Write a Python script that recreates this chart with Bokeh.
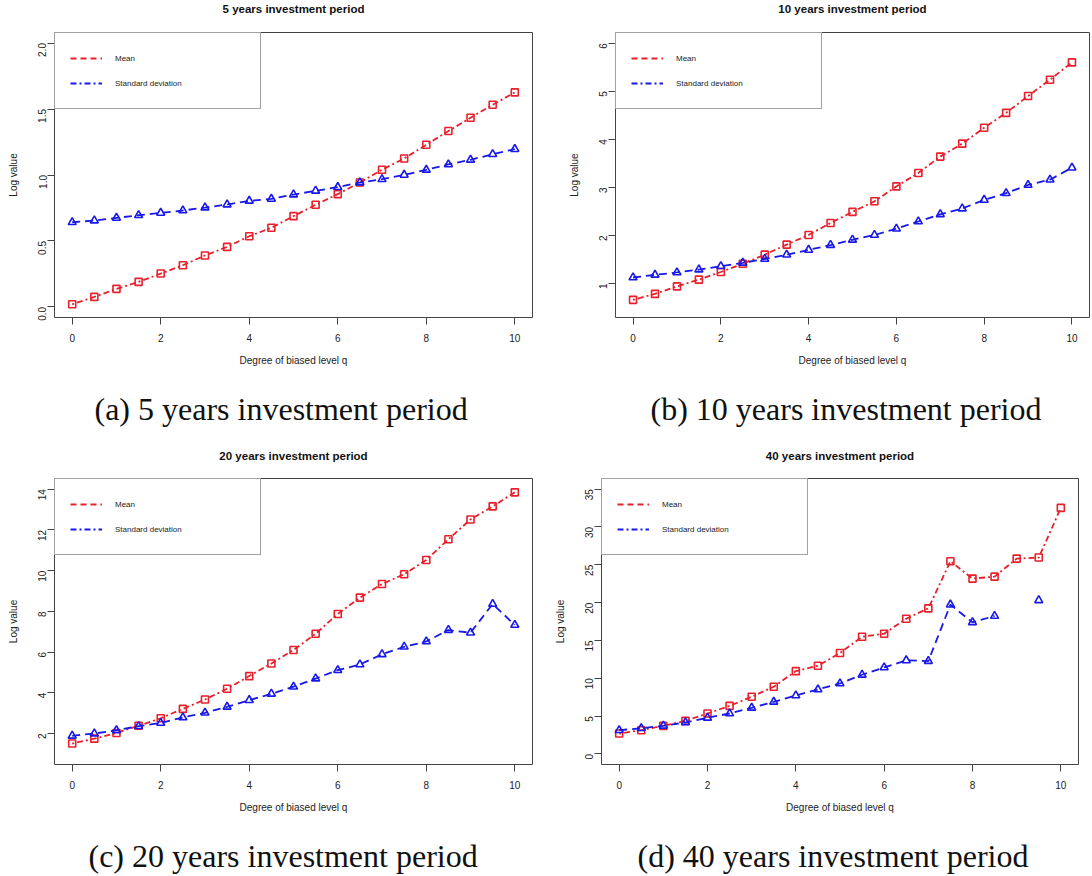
import math
from bokeh.plotting import figure
from bokeh.layouts import column, row
from bokeh.models import (FixedTicker, Range1d, Legend, LegendItem,
                          ColumnDataSource, NumeralTickFormatter)
from bokeh.core.properties import value
from bokeh.embed import file_html
from bokeh.resources import INLINE

nan = float("nan")

# ---------------- data ----------------
q = [0, 0.5, 1, 1.5, 2, 2.5, 3, 3.5, 4, 4.5, 5, 5.5, 6, 6.5, 7, 7.5, 8, 8.5, 9, 9.5, 10]

mean_5 = [0.02, 0.076, 0.137, 0.19, 0.253, 0.316, 0.39, 0.455, 0.536, 0.60, 0.688,
          0.774, 0.855, 0.943, 1.04, 1.125, 1.229, 1.333, 1.434, 1.532, 1.626]
sd_5 = [0.642, 0.655, 0.675, 0.695, 0.713, 0.731, 0.753, 0.776, 0.804, 0.819, 0.852,
        0.88, 0.908, 0.943, 0.968, 1.001, 1.039, 1.08, 1.115, 1.158, 1.196]

mean_10 = [0.66, 0.785, 0.94, 1.08, 1.24, 1.41, 1.60, 1.81, 2.01, 2.26, 2.49,
           2.71, 3.02, 3.30, 3.64, 3.91, 4.24, 4.55, 4.90, 5.24, 5.60]
sd_10 = [1.125, 1.18, 1.23, 1.29, 1.36, 1.43, 1.51, 1.60, 1.70, 1.80, 1.91,
         2.01, 2.14, 2.29, 2.44, 2.56, 2.74, 2.88, 3.05, 3.16, 3.41]

mean_20 = [1.51, 1.75, 2.03, 2.38, 2.75, 3.21, 3.67, 4.20, 4.82, 5.44, 6.10,
           6.90, 7.87, 8.67, 9.34, 9.82, 10.52, 11.54, 12.51, 13.15, 13.84]
sd_20 = [1.89, 2.0, 2.16, 2.36, 2.52, 2.79, 3.02, 3.31, 3.64, 3.95, 4.30,
         4.70, 5.11, 5.39, 5.89, 6.26, 6.52, 7.08, 6.95, 8.36, 7.33]

mean_40 = [2.69, 3.13, 3.71, 4.37, 5.34, 6.35, 7.55, 8.87, 10.94, 11.65, 13.33,
           15.49, 15.89, 17.87, 19.24, 25.46, 23.17, 23.43, 25.81, 25.95, 32.52]
sd_40 = [3.13, 3.40, 3.71, 4.15, 4.77, 5.34, 6.09, 6.88, 7.72, 8.52, 9.31,
         10.46, 11.43, 12.36, 12.27, 19.73, 17.39, 18.23, nan, 20.30, nan]

x_ticks = [0, 2, 4, 6, 8, 10]
y_ticks_5 = [0.0, 0.5, 1.0, 1.5, 2.0]
y_ticks_10 = [1, 2, 3, 4, 5, 6]
y_ticks_20 = [2, 4, 6, 8, 10, 12, 14]
y_ticks_40 = [0, 5, 10, 15, 20, 25, 30, 35]

titles = ["5 years investment period", "10 years investment period",
          "20 years investment period", "40 years investment period"]
captions = ["(a) 5 years investment period", "(b) 10 years investment period",
            "(c) 20 years investment period", "(d) 40 years investment period"]
series_names = ["Mean", "Standard deviation"]
x_label = "Degree of biased level q"
y_label = "Log value"

# ---------------- style ----------------
RED = "#E8202B"
BLUE = "#1818E8"
AX = "#444444"
TXT = "#222222"
SANS = "Liberation Sans"
SERIF = "Liberation Serif"
W = 546


def text_strip(txt, height, x, y_from_top, font, size, style, align):
    """A blank figure holding one line of text (title or caption)."""
    f = figure(width=W, height=height, x_range=Range1d(0, W),
               y_range=Range1d(0, height), output_backend="svg",
               toolbar_location=None, x_axis_type=None, y_axis_type=None,
               min_border=0)
    f.outline_line_color = None
    f.grid.visible = False
    f.background_fill_color = "white"
    f.border_fill_color = "white"
    f.text(x=[x], y=[height - y_from_top], text=[txt], text_align=align,
           text_baseline="middle", text_font=value(font),
           text_font_size=value(size), text_font_style=style,
           text_color="#111111")
    return f


def make_panel(mean, sd, y_range, y_ticks, left, right, frame_h, y_fmt=None):
    p = figure(width=W, height=frame_h + 1 + 56, x_range=Range1d(-0.4, 10.4),
               y_range=Range1d(*y_range), output_backend="svg",
               toolbar_location=None, min_border_left=left,
               min_border_right=right, min_border_top=1, min_border_bottom=56)
    p.background_fill_color = "white"
    p.border_fill_color = "white"
    p.grid.visible = False
    p.outline_line_color = AX
    p.outline_line_width = 1

    for ax in (p.xaxis[0], p.yaxis[0]):
        ax.axis_line_color = None
        ax.major_tick_line_color = AX
        ax.major_tick_in = 0
        ax.major_tick_out = 7
        ax.minor_tick_line_color = None
        ax.major_label_text_font = SANS
        ax.major_label_text_font_size = "10px"
        ax.major_label_text_color = TXT
        ax.axis_label_text_font = SANS
        ax.axis_label_text_font_size = "10px"
        ax.axis_label_text_font_style = "normal"
        ax.axis_label_text_color = TXT

    p.xaxis.ticker = FixedTicker(ticks=x_ticks)
    p.xaxis.axis_label = x_label
    p.xaxis.major_label_standoff = 9
    p.xaxis.axis_label_standoff = 10

    p.yaxis.ticker = FixedTicker(ticks=y_ticks)
    p.yaxis.axis_label = y_label
    p.yaxis.major_label_orientation = math.pi / 2
    p.yaxis.major_label_standoff = 5
    p.yaxis.axis_label_standoff = 13
    if y_fmt:
        p.yaxis.formatter = NumeralTickFormatter(format=y_fmt)

    src = ColumnDataSource(dict(q=q, mean=mean, sd=sd))
    p.line("q", "mean", source=src, color=RED, line_width=1.8, line_dash="2 3 6 3")
    p.scatter("q", "mean", source=src, marker="square", size=7, fill_color=None,
              line_color=RED, line_width=1.6)
    p.line("q", "sd", source=src, color=BLUE, line_width=1.8, line_dash="8 5")
    p.scatter("q", "sd", source=src, marker="triangle", size=8, fill_color=None,
              line_color=BLUE, line_width=1.6)

    # legend proxies (the original legend shows the two line styles swapped)
    proxy = ColumnDataSource(dict(x=[nan], y=[nan]))
    r_mean = p.line("x", "y", source=proxy, color=RED, line_width=1.8, line_dash="6 4")
    r_sd = p.line("x", "y", source=proxy, color=BLUE, line_width=1.8, line_dash="6 3 2 3")
    leg = Legend(items=[LegendItem(label=series_names[0], renderers=[r_mean]),
                        LegendItem(label=series_names[1], renderers=[r_sd])],
                 location="top_left", margin=0, padding=15, spacing=5,
                 glyph_width=32, glyph_height=20, label_height=20,
                 label_standoff=13, label_width=130,
                 label_text_font=SANS, label_text_font_size="8px",
                 label_text_color=TXT, border_line_color=AX,
                 border_line_width=1, background_fill_color="white",
                 background_fill_alpha=1.0)
    p.add_layout(leg)
    return p


def title_strip(txt, height, left, right, y_from_top):
    cx = (left + (W - right)) / 2
    return text_strip(txt, height, cx, y_from_top, SANS, "11.5px", "bold", "center")


def caption_strip(txt, height, x_left, y_from_top):
    return text_strip(txt, height, x_left, y_from_top, SERIF, "32px", "normal", "left")


# top row
ta = title_strip(titles[0], 31, 54, 14, 8.5)
tb = title_strip(titles[1], 31, 69, 3, 8.5)
pa = make_panel(mean_5, sd_5, (-0.08, 2.08), y_ticks_5, 54, 14, 285, y_fmt="0.0")
pb = make_panel(mean_10, sd_10, (0.293, 6.222), y_ticks_10, 69, 3, 285)
ca = caption_strip(captions[0], 65, 94, 35)
cb = caption_strip(captions[1], 65, 104, 35)

# bottom row
tc = title_strip(titles[2], 39, 54, 14, 17)
td = title_strip(titles[3], 39, 55, 14, 17)
pc = make_panel(mean_20, sd_20, (0.48, 14.52), y_ticks_20, 54, 14, 286)
pd = make_panel(mean_40, sd_40, (-1.4, 36.4), y_ticks_40, 55, 14, 286)
cc = caption_strip(captions[2], 56, 88, 35)
cd = caption_strip(captions[3], 56, 91, 35)

layout = column(row(ta, tb), row(pa, pb), row(ca, cb),
                row(tc, td), row(pc, pd), row(cc, cd))
open("out.html", "w").write(file_html(layout, INLINE))
